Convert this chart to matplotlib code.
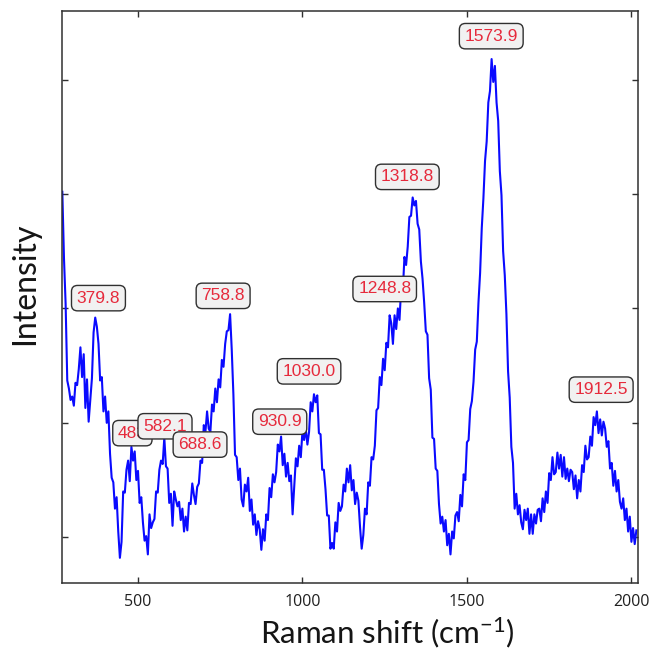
import numpy as np
import matplotlib
matplotlib.use("Agg")
import matplotlib.pyplot as plt

plt.rcParams['mathtext.fontset'] = 'custom'
plt.rcParams['mathtext.rm'] = 'Lato'
plt.rcParams['mathtext.it'] = 'Lato'

# Raman shift grid (cm^-1) and intensity
shift = np.arange(270, 2020, 5)
intensity = [
    3.02, 2.44, 2.04, 1.37, 1.30, 1.20, 1.23, 1.15, 1.35, 1.33,
    1.47, 1.66, 1.40, 1.60, 1.13, 1.38, 1.01, 1.20, 1.39, 1.79,
    1.92, 1.84, 1.69, 1.37, 1.40, 1.10, 1.23, 1.00, 1.10, 0.73,
    0.52, 0.48, 0.25, 0.35, 0.05, -0.18, -0.04, 0.40, 0.39, 0.59,
    0.67, 0.49, 0.79, 0.67, 0.75, 0.50, 0.58, 0.30, 0.35, 0.13,
    -0.03, 0.01, -0.15, 0.20, 0.08, 0.13, 0.16, 0.40, 0.39, 0.59,
    0.67, 0.64, 0.87, 0.62, 0.60, 0.30, 0.38, 0.10, 0.40, 0.33,
    0.27, 0.31, 0.15, 0.25, 0.05, 0.18, 0.06, 0.30, 0.29, 0.47,
    0.37, 0.29, 0.44, 0.47, 0.67, 0.65, 0.98, 0.92, 1.10, 0.95,
    0.92, 1.16, 1.10, 1.30, 1.18, 1.38, 1.31, 1.55, 1.49, 1.69,
    1.80, 1.81, 1.95, 1.64, 1.25, 0.72, 0.70, 0.50, 0.60, 0.33,
    0.27, 0.46, 0.40, 0.52, 0.23, 0.33, 0.11, 0.20, 0.02, 0.14,
    0.07, -0.11, 0.07, -0.03, 0.20, 0.15, 0.43, 0.35, 0.55, 0.48,
    0.57, 0.81, 0.75, 0.88, 0.63, 0.73, 0.53, 0.65, 0.49, 0.54,
    0.20, 0.44, 0.69, 0.62, 0.80, 0.70, 0.93, 0.85, 0.95, 0.81,
    0.92, 1.18, 1.10, 1.25, 1.18, 1.24, 0.91, 0.90, 0.59, 0.59,
    0.42, 0.19, 0.19, -0.10, -0.05, -0.10, 0.13, 0.05, 0.30, 0.23,
    0.27, 0.46, 0.40, 0.60, 0.48, 0.63, 0.41, 0.50, 0.29, 0.39,
    0.32, 0.09, -0.10, 0.02, 0.25, 0.20, 0.48, 0.45, 0.70, 0.68,
    0.80, 1.11, 1.13, 1.40, 1.33, 1.56, 1.46, 1.70, 1.66, 1.94,
    1.87, 1.69, 1.94, 1.82, 2.00, 1.90, 2.18, 2.15, 2.45, 2.38,
    2.54, 2.80, 2.81, 2.97, 2.90, 2.94, 2.74, 2.69, 2.41, 2.26,
    2.05, 1.80, 1.77, 1.39, 1.29, 0.87, 0.86, 0.60, 0.58, 0.29,
    0.12, 0.18, 0.05, 0.15, -0.07, 0.03, -0.15, 0.05, -0.01, 0.19,
    0.22, 0.14, 0.37, 0.27, 0.55, 0.50, 0.83, 0.85, 1.12, 1.19,
    1.36, 1.64, 1.71, 2.05, 2.31, 2.70, 2.96, 3.29, 3.46, 3.80,
    3.90, 4.18, 3.98, 4.12, 3.80, 3.64, 3.20, 2.99, 2.50, 2.29,
    1.95, 1.45, 1.22, 0.79, 0.65, 0.25, 0.38, 0.20, 0.28, 0.13,
    0.07, 0.24, 0.15, 0.25, 0.03, 0.20, 0.03, 0.20, 0.12, 0.24,
    0.25, 0.14, 0.34, 0.22, 0.40, 0.30, 0.56, 0.50, 0.70, 0.55,
    0.57, 0.74, 0.60, 0.72, 0.53, 0.70, 0.51, 0.60, 0.49, 0.59,
    0.57, 0.42, 0.54, 0.34, 0.50, 0.40, 0.63, 0.57, 0.80, 0.68,
    0.70, 0.88, 0.80, 1.05, 0.98, 1.10, 0.91, 1.03, 0.89, 1.01,
    0.95, 0.79, 0.84, 0.60, 0.65, 0.45, 0.58, 0.40, 0.50, 0.31,
    0.25, 0.34, 0.15, 0.25, 0.05, 0.18, -0.04, 0.08, -0.06, 0.06,
]

# Peak annotations: label text, x position, y position of the box
peak_labels = ["379.8", "758.8", "483", "582.1", "688.6", "930.9",
               "1030.0", "1248.8", "1318.8", "1573.9", "1912.5"]
peak_x = [379.8, 758.8, 483.0, 582.1, 688.6, 930.9,
          1020.0, 1250.0, 1318.8, 1573.9, 1908.0]
peak_y = [2.09, 2.11, 0.91, 0.97, 0.81, 1.01,
          1.45, 2.17, 3.15, 4.38, 1.29]

xticks = [500, 1000, 1500, 2000]
yticks = [0, 1, 2, 3, 4]

fig = plt.figure(figsize=(6.49, 6.53), dpi=100)
ax = fig.add_axes([62/649, 1-583/653, (638-62)/649, (583-11)/653])

ax.plot(shift, intensity, color='#0a0aff', lw=1.5, zorder=2)

for lab, px, py in zip(peak_labels, peak_x, peak_y):
    ax.text(px, py, lab, ha='center', va='center', fontsize=12.5,
            family='Liberation Sans', color='#e62a3c', zorder=3,
            bbox=dict(boxstyle='round,pad=0.3,rounding_size=0.35',
                      fc='#f1f1f1', ec='#303030', lw=1.0))

ax.set_xlim(269, 2020)
ax.set_ylim(-0.40, 4.60)
ax.set_xticks(xticks)
ax.set_yticks(yticks)
ax.set_yticklabels([])
ax.tick_params(direction='in', length=4, width=1, color='#303030',
               top=True, right=True, labelsize=11.5, pad=8)
for lab in ax.get_xticklabels():
    lab.set_family('Open Sans')
    lab.set_color('#202020')
for sp in ax.spines.values():
    sp.set_color('#303030')
    sp.set_linewidth(1.1)

ax.set_xlabel('Raman shift (cm$^{-1}$)', fontsize=22.5, family='Lato',
              color='#151515')
ax.set_ylabel('Intensity', fontsize=23, family='Lato', color='#151515')
ax.xaxis.set_label_coords(0.564, -0.056)
ax.yaxis.set_label_coords(-0.038, 0.524)

fig.savefig('out.png', dpi=100)
